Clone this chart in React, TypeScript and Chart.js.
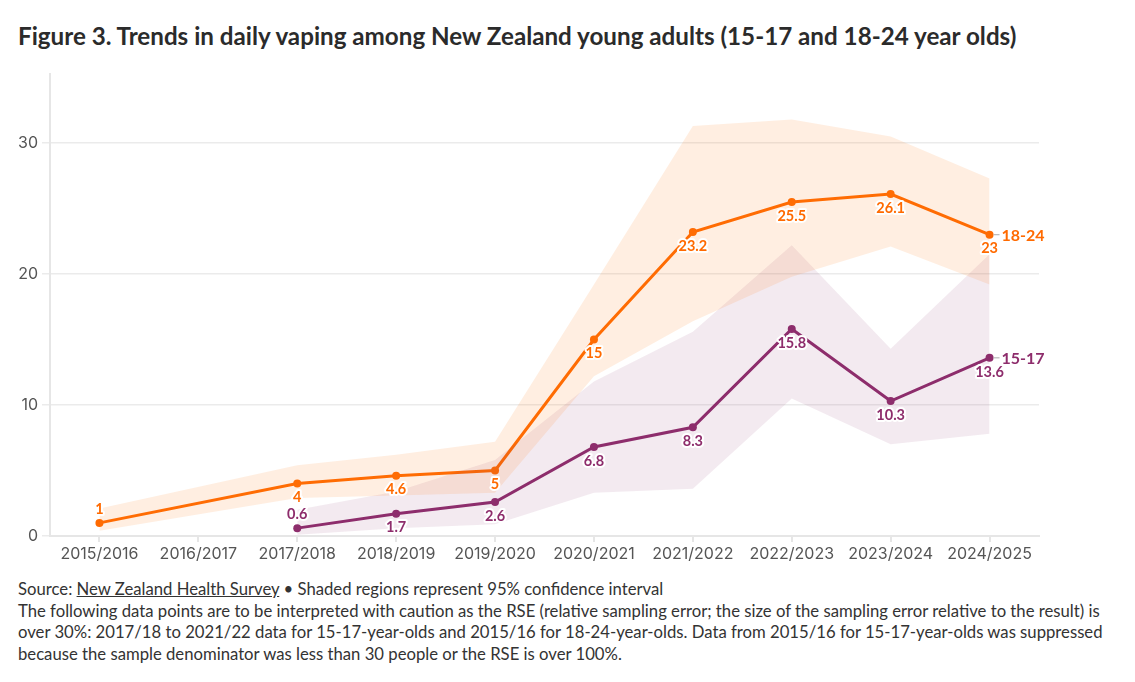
import React, { useEffect, useRef } from "react";
import { Chart, registerables } from "chart.js";

Chart.register(...registerables);

const years = [
  "2015/2016", "2016/2017", "2017/2018", "2018/2019", "2019/2020",
  "2020/2021", "2021/2022", "2022/2023", "2023/2024", "2024/2025",
];

// Daily vaping prevalence (%)
const adults18to24 = [1, null, 4, 4.6, 5, 15, 23.2, 25.5, 26.1, 23];
const youth15to17 = [null, null, 0.6, 1.7, 2.6, 6.8, 8.3, 15.8, 10.3, 13.6];

// 95% confidence intervals
const adultsLower = [0.4, null, 2.9, 3.1, 3.3, 12.2, 16.4, 19.8, 22.1, 19.2];
const adultsUpper = [2.1, null, 5.4, 6.2, 7.2, 19.2, 31.3, 31.8, 30.5, 27.3];
const youthLower = [null, null, 0.1, 0.6, 0.9, 3.3, 3.6, 10.5, 7.0, 7.8];
const youthUpper = [null, null, 2.0, 3.4, 5.8, 11.8, 15.6, 22.2, 14.3, 21.5];

// Which labels sit above their point instead of below
const adultsLabelAbove = [true, false, false, false, false, false, false, false, false, false];
const youthLabelAbove = [false, false, true, false, false, false, false, false, false, false];

const ORANGE = "#ff6a00";
const PURPLE = "#8e2d6c";
const ORANGE_BAND = "rgba(255, 120, 20, 0.13)";
const PURPLE_BAND = "rgba(142, 45, 108, 0.10)";

const CANVAS_W = 1135;
const CANVAS_H = 510;

const valueLabels = {
  id: "valueLabels",
  afterDatasetsDraw(chart: any) {
    const ctx = chart.ctx;
    const series = [
      { idx: 5, color: ORANGE, above: adultsLabelAbove, name: "18-24" },
      { idx: 4, color: PURPLE, above: youthLabelAbove, name: "15-17" },
    ];
    ctx.save();
    ctx.textAlign = "center";
    ctx.textBaseline = "middle";
    ctx.lineJoin = "round";
    for (const s of series) {
      const meta = chart.getDatasetMeta(s.idx);
      const data = chart.data.datasets[s.idx].data as (number | null)[];
      ctx.font = "bold 14.5px Lato";
      meta.data.forEach((pt: any, i: number) => {
        const v = data[i];
        if (v === null || v === undefined) return;
        const y = pt.y + (s.above[i] ? -14 : 14);
        const txt = String(v);
        ctx.strokeStyle = "#ffffff";
        ctx.lineWidth = 4;
        ctx.strokeText(txt, pt.x, y);
        ctx.fillStyle = s.color;
        ctx.fillText(txt, pt.x, y);
      });
      // series name at the end of each line
      let last: any = null;
      meta.data.forEach((pt: any, i: number) => {
        if (data[i] !== null && data[i] !== undefined) last = pt;
      });
      if (last) {
        ctx.strokeStyle = "#aaaaaa";
        ctx.lineWidth = 1;
        ctx.beginPath();
        ctx.moveTo(last.x + 4, last.y);
        ctx.lineTo(last.x + 10, last.y);
        ctx.stroke();
        ctx.font = "bold 16px Lato";
        ctx.textAlign = "left";
        ctx.fillStyle = s.color;
        ctx.fillText(s.name, last.x + 12, last.y + 1);
        ctx.textAlign = "center";
      }
    }
    ctx.restore();
  },
};

export default function App() {
  const canvasRef = useRef<HTMLCanvasElement | null>(null);

  useEffect(() => {
    if (!canvasRef.current) return;
    const chart = new Chart(canvasRef.current, {
      type: "line",
      data: {
        labels: years,
        datasets: [
          {
            label: "18-24 lower",
            data: adultsLower,
            borderWidth: 0,
            pointRadius: 0,
            fill: false,
            spanGaps: true,
            borderColor: "transparent",
          },
          {
            label: "18-24 upper",
            data: adultsUpper,
            borderWidth: 0,
            pointRadius: 0,
            fill: "-1",
            backgroundColor: ORANGE_BAND,
            spanGaps: true,
            borderColor: "transparent",
          },
          {
            label: "15-17 lower",
            data: youthLower,
            borderWidth: 0,
            pointRadius: 0,
            fill: false,
            spanGaps: true,
            borderColor: "transparent",
          },
          {
            label: "15-17 upper",
            data: youthUpper,
            borderWidth: 0,
            pointRadius: 0,
            fill: "-1",
            backgroundColor: PURPLE_BAND,
            spanGaps: true,
            borderColor: "transparent",
          },
          {
            label: "15-17",
            data: youth15to17,
            borderColor: PURPLE,
            backgroundColor: PURPLE,
            borderWidth: 3,
            pointRadius: 4,
            pointBorderWidth: 0,
            fill: false,
            spanGaps: true,
          },
          {
            label: "18-24",
            data: adults18to24,
            borderColor: ORANGE,
            backgroundColor: ORANGE,
            borderWidth: 3,
            pointRadius: 4,
            pointBorderWidth: 0,
            fill: false,
            spanGaps: true,
          },
        ],
      },
      options: {
        animation: false,
        responsive: false,
        events: [],
        layout: { padding: { left: 0, right: CANVAS_W - 1039, top: 13, bottom: 0 } },
        plugins: {
          legend: { display: false },
          tooltip: { enabled: false },
          title: { display: false },
        },
        scales: {
          x: {
            type: "category",
            offset: true,
            grid: {
              display: true,
              drawOnChartArea: false,
              drawTicks: true,
              tickLength: 6,
              offset: false,
              color: "#e6e6e6",
              lineWidth: 2,
            },
            border: { display: true, color: "#e6e6e6", width: 2 },
            ticks: {
              color: "#555555",
              font: { family: "Inter", size: 16 },
              padding: 3,
              maxRotation: 0,
              autoSkip: false,
            },
            afterFit(scale: any) {
              scale.height = CANVAS_H - 476;
            },
          },
          y: {
            min: 0,
            max: 35.3,
            ticks: {
              stepSize: 10,
              color: "#555555",
              font: { family: "Inter", size: 16 },
              padding: 4,
            },
            afterBuildTicks(scale: any) {
              scale.ticks = scale.ticks.filter((t: any) => t.value % 10 === 0);
            },
            grid: {
              color: "#ebebeb",
              lineWidth: 1.5,
              tickLength: 8,
            },
            border: { display: true, color: "#e6e6e6", width: 2 },
            afterFit(scale: any) {
              scale.width = 50;
            },
          },
        },
      },
      plugins: [valueLabels],
    });
    return () => chart.destroy();
  }, []);

  return (
    <div style={{ position: "absolute", left: 0, top: 0, width: 1135, height: 682, background: "#fff" }}>
      <div
        style={{
          position: "absolute",
          left: 18,
          top: 21,
          fontFamily: "Lato",
          fontWeight: 700,
          fontSize: 24.2,
          color: "#2b2b2b",
          whiteSpace: "nowrap",
        }}
      >
        Figure 3. Trends in daily vaping among New Zealand young adults (15-17 and 18-24 year olds)
      </div>
      <canvas
        ref={canvasRef}
        width={CANVAS_W}
        height={CANVAS_H}
        style={{ position: "absolute", left: 0, top: 60, width: CANVAS_W, height: CANVAS_H }}
      />
      <div
        style={{
          position: "absolute",
          left: 18,
          top: 579,
          width: 1105,
          fontFamily: "Lato",
          fontSize: 16.7,
          lineHeight: "21.5px",
          color: "#333333",
        }}
      >
        <div>
          Source: <span style={{ textDecoration: "underline" }}>New Zealand Health Survey</span> • Shaded regions represent 95% confidence interval
        </div>
        <div>
          The following data points are to be interpreted with caution as the RSE (relative sampling error; the size of the sampling error relative to the result) is over 30%: 2017/18 to 2021/22 data for 15-17-year-olds and 2015/16 for 18-24-year-olds. Data from 2015/16 for 15-17-year-olds was suppressed because the sample denominator was less than 30 people or the RSE is over 100%.
        </div>
      </div>
    </div>
  );
}
